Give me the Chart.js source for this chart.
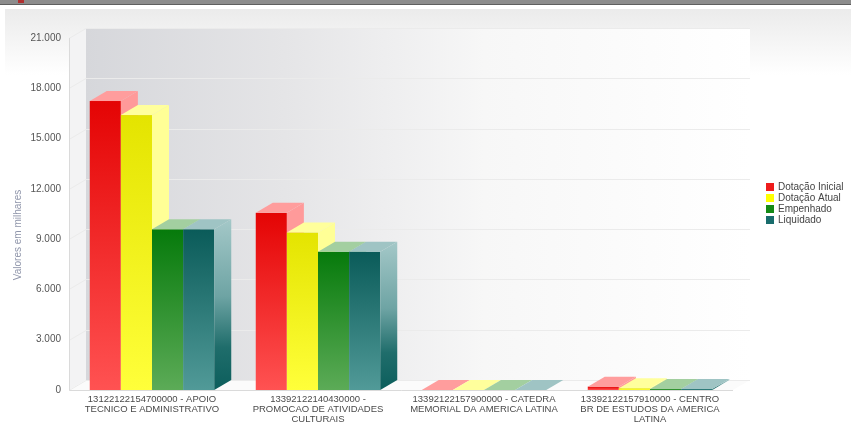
<!DOCTYPE html>
<html>
<head>
<meta charset="utf-8">
<script src="https://cdn.jsdelivr.net/npm/chart.js@4/dist/chart.umd.min.js"></script>
<style>
  html, body { margin: 0; padding: 0; background: #fff; }
  #wrap { width: 851px; height: 423px; position: relative; }
</style>
</head>
<body>
<div id="wrap"><canvas id="chart" width="851" height="423"></canvas></div>
<script>
// ================== DADOS ==================
const categorias = [
  ['13122122154700000 - APOIO', 'TECNICO E ADMINISTRATIVO'],
  ['13392122140430000 -', 'PROMOCAO DE ATIVIDADES', 'CULTURAIS'],
  ['13392122157900000 - CATEDRA', 'MEMORIAL DA AMERICA LATINA'],
  ['13392122157910000 - CENTRO', 'BR DE ESTUDOS DA AMERICA', 'LATINA']
];
const dotacaoInicial = [17240, 10570, 0, 200];
const dotacaoAtual   = [16400, 9400, 0, 110];
const empenhado      = [9590, 8250, 0, 60];
const liquidado      = [9590, 8250, 0, 60];
const yTicks = [0, 3000, 6000, 9000, 12000, 15000, 18000, 21000];
const nomesSeries = ['Dotação Inicial', 'Dotação Atual', 'Empenhado', 'Liquidado'];

// cores: frente (topo -> base), tampa, lateral
const estilos = [
  { front: ['#e40404', '#ff5252'], top: '#ff9d9d', side: ['#ff9a9a', '#ff9a9a'], box: '#ee1c1c' },
  { front: ['#e4e400', '#ffff3a'], top: '#ffff9c', side: ['#ffff96', '#ffff96'], box: '#ffff00' },
  { front: ['#067a0b', '#5cab57'], top: '#a3cfa0', side: ['#a8d0a4', '#a8d0a4'], box: '#148a16' },
  { front: ['#0a5b59', '#519a98'], top: '#9fc4c4', side: ['#a4c8c8', '#0c5e5c'], box: '#186c6c' }
];

const DX = 17, DY = -10;

function fmt(v) {
  return String(v).replace(/\B(?=(\d{3})+(?!\d))/g, '.');
}

// ================== FUNDO / PAREDES ==================
const cenario = {
  id: 'cenario',
  beforeDraw(chart) {
    const ctx = chart.ctx;
    const a = chart.chartArea;
    const ys = chart.scales.y;
    ctx.save();
    // faixa superior
    ctx.fillStyle = '#8c8c8c';
    ctx.fillRect(0, 0, chart.width, 4);
    ctx.fillStyle = '#5e5e5e';
    ctx.fillRect(0, 4, chart.width, 1);
    ctx.fillStyle = '#b03030';
    ctx.fillRect(18, 0, 6, 3);

    // painel cinza claro
    let g = ctx.createLinearGradient(0, 9, 0, 75);
    g.addColorStop(0, '#ebebeb');
    g.addColorStop(1, '#ffffff');
    ctx.fillStyle = g;
    ctx.fillRect(5, 9, chart.width - 5, 66);

    // parede do fundo
    g = ctx.createLinearGradient(a.left + DX, 0, a.right + DX, 0);
    g.addColorStop(0, '#d6d7db');
    g.addColorStop(0.3, '#e5e5e7');
    g.addColorStop(0.6, '#f7f7f7');
    g.addColorStop(1, '#ffffff');
    ctx.fillStyle = g;
    ctx.fillRect(a.left + DX, a.top + DY, a.right - a.left, a.bottom - a.top);

    // parede lateral
    ctx.beginPath();
    ctx.moveTo(a.left, a.top);
    ctx.lineTo(a.left + DX, a.top + DY);
    ctx.lineTo(a.left + DX, a.bottom + DY);
    ctx.lineTo(a.left, a.bottom);
    ctx.closePath();
    ctx.fillStyle = '#f3f3f4';
    ctx.fill();

    // piso
    ctx.beginPath();
    ctx.moveTo(a.left, a.bottom);
    ctx.lineTo(a.left + DX, a.bottom + DY);
    ctx.lineTo(a.right + DX, a.bottom + DY);
    ctx.lineTo(a.right, a.bottom);
    ctx.closePath();
    ctx.fillStyle = '#fbfbfb';
    ctx.fill();

    // linhas de grade
    ctx.strokeStyle = '#ebebeb';
    ctx.lineWidth = 1;
    yTicks.forEach(v => {
      const y = Math.round(ys.getPixelForValue(v)) + 0.5;
      ctx.beginPath();
      ctx.moveTo(a.left, y);
      ctx.lineTo(a.left + DX, y + DY);
      ctx.lineTo(a.right + DX, y + DY);
      ctx.stroke();
    });

    // eixos
    ctx.strokeStyle = '#dadada';
    ctx.beginPath();
    ctx.moveTo(a.left + 0.5, a.top);
    ctx.lineTo(a.left + 0.5, a.bottom + 0.5);
    ctx.lineTo(a.right, a.bottom + 0.5);
    ctx.stroke();
    ctx.restore();
  },

  // ================== BARRAS 3D ==================
  afterDatasetsDraw(chart) {
    const ctx = chart.ctx;
    ctx.save();
    for (let j = 0; j < categorias.length; j++) {
      chart.data.datasets.forEach((ds, i) => {
        const el = chart.getDatasetMeta(i).data[j];
        const p = el.getProps(['x', 'y', 'base', 'width'], true);
        const l = p.x - p.width / 2, r = p.x + p.width / 2;
        const st = estilos[i];
        const h = p.base - p.y;

        // frente
        if (h > 0.3) {
          const g = ctx.createLinearGradient(0, p.y, 0, p.base);
          g.addColorStop(0, st.front[0]);
          g.addColorStop(1, st.front[1]);
          ctx.fillStyle = g;
          ctx.fillRect(l, p.y, r - l, h);
        }
        // lateral
        const gs = ctx.createLinearGradient(0, p.y + DY, 0, p.base);
        gs.addColorStop(0, st.side[0]);
        gs.addColorStop(0.45, i === 3 ? '#6ea4a4' : st.side[0]);
        gs.addColorStop(0.75, i === 3 ? '#1f6d6b' : st.side[1]);
        gs.addColorStop(1, st.side[1]);
        ctx.fillStyle = gs;
        ctx.beginPath();
        ctx.moveTo(r, p.y);
        ctx.lineTo(r + DX, p.y + DY);
        ctx.lineTo(r + DX, p.base + DY);
        ctx.lineTo(r, p.base);
        ctx.closePath();
        ctx.fill();
        // tampa
        ctx.fillStyle = st.top;
        ctx.beginPath();
        ctx.moveTo(l, p.y);
        ctx.lineTo(r, p.y);
        ctx.lineTo(r + DX, p.y + DY);
        ctx.lineTo(l + DX, p.y + DY);
        ctx.closePath();
        ctx.fill();
      });
    }
    ctx.restore();
  },

  // ================== LEGENDA + TITULO ==================
  afterDraw(chart) {
    const ctx = chart.ctx;
    ctx.save();
    ctx.font = '10px "Liberation Sans", Arial, sans-serif';
    ctx.textBaseline = 'middle';
    nomesSeries.forEach((nome, i) => {
      const y = 187 + i * 11;
      ctx.fillStyle = estilos[i].box;
      ctx.fillRect(766, y - 4, 8, 8);
      ctx.fillStyle = '#444';
      ctx.fillText(nome, 778, y);
    });
    ctx.translate(18, 235);
    ctx.rotate(-Math.PI / 2);
    ctx.textAlign = 'center';
    ctx.fillStyle = '#8f95aa';
    ctx.fillText('Valores em milhares', 0, 0);
    ctx.restore();
  }
};

const series = [dotacaoInicial, dotacaoAtual, empenhado, liquidado];

new Chart(document.getElementById('chart'), {
  type: 'bar',
  data: {
    labels: categorias,
    datasets: series.map((d, i) => ({
      label: nomesSeries[i],
      data: d,
      backgroundColor: 'rgba(0,0,0,0)',
      borderWidth: 0,
      categoryPercentage: 0.75,
      barPercentage: 1
    }))
  },
  options: {
    responsive: false,
    animation: false,
    layout: { padding: { top: 38, right: 118, left: 0, bottom: 0 } },
    plugins: { legend: { display: false }, tooltip: { enabled: false } },
    scales: {
      x: {
        grid: { display: false, drawTicks: false },
        border: { display: false },
        ticks: {
          color: '#4a4a4a',
          padding: 4,
          maxRotation: 0,
          autoSkip: false,
          font: { family: '"Liberation Sans", Arial, sans-serif', size: 9.5, lineHeight: 1.05 }
        },
        afterFit(s) { s.height = 33; }
      },
      y: {
        min: 0,
        max: 21000,
        grid: { display: false, drawTicks: false },
        border: { display: false },
        afterBuildTicks(s) { s.ticks = yTicks.map(v => ({ value: v })); },
        ticks: {
          color: '#555',
          padding: 8,
          font: { family: '"Liberation Sans", Arial, sans-serif', size: 10 },
          callback: v => fmt(v)
        },
        afterFit(s) { s.width = 69; }
      }
    }
  },
  plugins: [cenario]
});
</script>
</body>
</html>
